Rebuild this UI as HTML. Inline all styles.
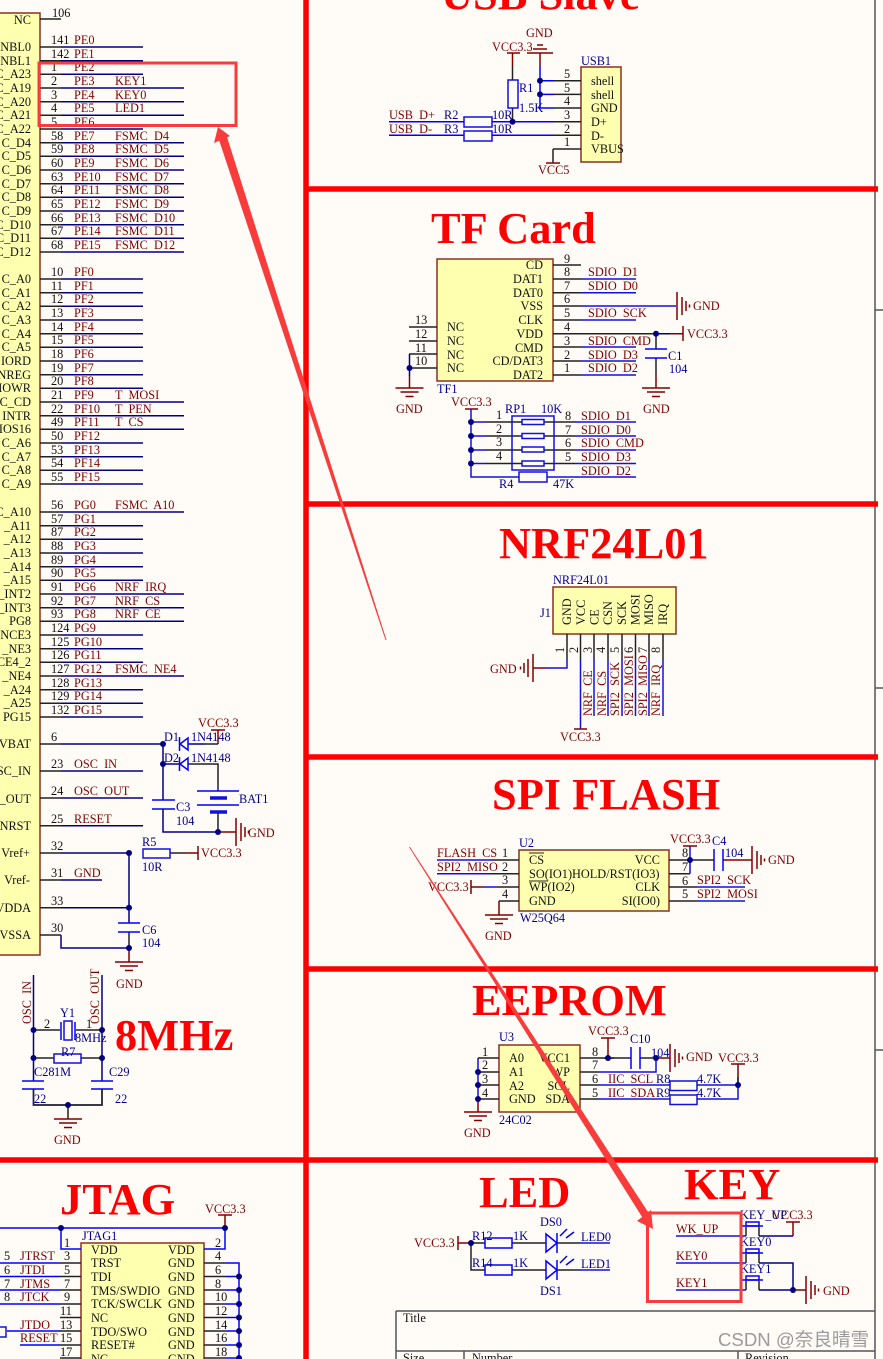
<!DOCTYPE html>
<html><head><meta charset="utf-8"><style>
html,body{margin:0;padding:0;background:#fffcf8}
svg{display:block;filter:blur(.35px)}
text{font-family:"Liberation Serif",serif;font-size:12.300px;fill:#000;white-space:pre}
.r,.r text{fill:#800000}.b,.b text{fill:#000090}.k,.k text{fill:#111}.e{text-anchor:end}
.t text{font-weight:bold;font-size:44.400px;fill:#ff0000}
.w{fill:none;stroke:#000080;stroke-width:1.500}
.u{fill:none;stroke:#1010e0;stroke-width:1.500}
.s{fill:none;stroke:#222;stroke-width:1.500}
.m{fill:none;stroke:#800000;stroke-width:1.500}
.c{fill:#ffffb0;stroke:#8a3020;stroke-width:1.500}
.x{fill:none;stroke:#0000ff;stroke-width:1.500}
</style></head><body>
<svg width="883" height="1359" viewBox="0 0 883 1359" xmlns="http://www.w3.org/2000/svg">
<defs>
<g id="gd" class="m"><path d="M-14 0H14M-9 4H9M-4 8.500H4" stroke-width="1.500"/></g>
<g id="gr" class="m"><path d="M0 -14V14M5 -9V9M9 -5V5M12.500 -1.500V1.500" stroke-width="1.500"/></g>
<circle id="d" r="3" fill="#000080"/>
</defs>
<rect width="883" height="1359" fill="#fffcf8"/>

<!-- frame -->
<path d="M875 0V1359M875 310H883M875 688H883M875 1050H883M396 1311H875M396 1311V1359M396 1351H875M464 1351V1359M738 1351V1359" fill="none" stroke="#555" stroke-width="1.500"/>
<path d="M306 0V1359M306 189H878M306 504H878M306 757H878M306 969H878M0 1160H878" fill="none" stroke="#ff0000" stroke-width="5.500"/>
<text x="403" y="1322" class="k">Title</text><text x="403" y="1362" class="k">Size</text><text x="472" y="1362" class="k">Number</text><text x="745" y="1362" class="k">Revision</text>

<!-- big titles -->
<g class="t">
<text x="441" y="9">USB Slave</text><text x="431" y="243">TF Card</text><text x="499" y="558">NRF24L01</text><text x="492" y="809">SPI FLASH</text><text x="472" y="1015">EEPROM</text><text x="479" y="1207">LED</text><text x="684" y="1199">KEY</text><text x="60" y="1214">JTAG</text><text x="115" y="1050">8MHz</text>
</g>

<!-- MCU -->
<rect x="-10" y="13" width="50" height="942" class="c"/>
<path class="w" d="M61 47H143M61 60.700H143M61 74.300H143M61 88H184M61 101.700H184M61 115.300H184M61 129H143M61 142.700H184M61 156.300H184M61 170H184M61 183.700H184M61 197.300H184M61 211H184M61 224.700H184M61 238.300H184M61 252H184
M61 279H143M61 292.700H143M61 306.300H143M61 320H143M61 333.700H143M61 347.300H143M61 361H143M61 374.700H143M61 388.300H143M61 402H184M61 415.700H184M61 429.300H184M61 443H143M61 456.700H143M61 470.300H143M61 484H143
M61 512H184M61 525.700H143M61 539.300H143M61 553H143M61 566.700H143M61 580.300H143M61 594H184M61 607.700H184M61 621.300H184M61 635H143M61 648.700H143M61 662.300H143M61 676H184M61 689.700H143M61 703.300H143M61 717H143
M61 744H163M61 771H143M61 798H143M61 825.700H143M61 853H129M61 880H102M61 907.700H129M61 935V948H129"/>
<path class="s" d="M40 19H61M40 47H61M40 60.700H61M40 74.300H61M40 88H61M40 101.700H61M40 115.300H61M40 129H61M40 142.700H61M40 156.300H61M40 170H61M40 183.700H61M40 197.300H61M40 211H61M40 224.700H61M40 238.300H61M40 252H61
M40 279H61M40 292.700H61M40 306.300H61M40 320H61M40 333.700H61M40 347.300H61M40 361H61M40 374.700H61M40 388.300H61M40 402H61M40 415.700H61M40 429.300H61M40 443H61M40 456.700H61M40 470.300H61M40 484H61
M40 512H61M40 525.700H61M40 539.300H61M40 553H61M40 566.700H61M40 580.300H61M40 594H61M40 607.700H61M40 621.300H61M40 635H61M40 648.700H61M40 662.300H61M40 676H61M40 689.700H61M40 703.300H61M40 717H61
M40 744H61M40 771H61M40 798H61M40 825.700H61M40 853H61M40 880H61M40 907.700H61M40 935H61"/>
<g class="k e" text-anchor="end">
<text x="31" y="24">NC</text><text x="31" y="51">NBL0</text><text x="31" y="65">NBL1</text><text x="31" y="78">C_A23</text><text x="31" y="92">C_A19</text><text x="31" y="106">C_A20</text><text x="31" y="119">C_A21</text><text x="31" y="133">C_A22</text><text x="31" y="147">C_D4</text><text x="31" y="160">C_D5</text><text x="31" y="174">C_D6</text><text x="31" y="188">C_D7</text><text x="31" y="201">C_D8</text><text x="31" y="215">C_D9</text><text x="31" y="229">C_D10</text><text x="31" y="242">C_D11</text><text x="31" y="256">C_D12</text>
<text x="31" y="283">C_A0</text><text x="31" y="297">C_A1</text><text x="31" y="310">C_A2</text><text x="31" y="324">C_A3</text><text x="31" y="338">C_A4</text><text x="31" y="351">C_A5</text><text x="31" y="365">IORD</text><text x="31" y="379">NREG</text><text x="31" y="392">IOWR</text><text x="31" y="406">C_CD</text><text x="31" y="420">INTR</text><text x="31" y="433">IOS16</text><text x="31" y="447">C_A6</text><text x="31" y="461">C_A7</text><text x="31" y="474">C_A8</text><text x="31" y="488">C_A9</text>
<text x="31" y="516">C_A10</text><text x="31" y="530">_A11</text><text x="31" y="543">_A12</text><text x="31" y="557">_A13</text><text x="31" y="571">_A14</text><text x="31" y="584">_A15</text><text x="31" y="598">_INT2</text><text x="31" y="612">_INT3</text><text x="31" y="625">PG8</text><text x="31" y="639">NCE3</text><text x="31" y="653">_NE3</text><text x="31" y="666">CE4_2</text><text x="31" y="680">_NE4</text><text x="31" y="694">_A24</text><text x="31" y="707">_A25</text><text x="31" y="721">PG15</text>
<text x="31" y="748">VBAT</text><text x="31" y="775">SC_IN</text><text x="31" y="803">_OUT</text><text x="31" y="830">NRST</text><text x="30" y="857">Vref+</text><text x="30" y="884">Vref-</text><text x="31" y="912">/VDDA</text><text x="31" y="939">VSSA</text>
</g>
<g class="k">
<text x="52" y="17">106</text><text x="51" y="44">141</text><text x="51" y="58">142</text><text x="51" y="71">1</text><text x="51" y="85">2</text><text x="51" y="99">3</text><text x="51" y="112">4</text><text x="51" y="126">5</text><text x="51" y="140">58</text><text x="51" y="153">59</text><text x="51" y="167">60</text><text x="51" y="181">63</text><text x="51" y="194">64</text><text x="51" y="208">65</text><text x="51" y="222">66</text><text x="51" y="235">67</text><text x="51" y="249">68</text>
<text x="51" y="276">10</text><text x="51" y="290">11</text><text x="51" y="303">12</text><text x="51" y="317">13</text><text x="51" y="331">14</text><text x="51" y="344">15</text><text x="51" y="358">18</text><text x="51" y="372">19</text><text x="51" y="385">20</text><text x="51" y="399">21</text><text x="51" y="413">22</text><text x="51" y="426">49</text><text x="51" y="440">50</text><text x="51" y="454">53</text><text x="51" y="467">54</text><text x="51" y="481">55</text>
<text x="51" y="509">56</text><text x="51" y="523">57</text><text x="51" y="536">87</text><text x="51" y="550">88</text><text x="51" y="564">89</text><text x="51" y="577">90</text><text x="51" y="591">91</text><text x="51" y="605">92</text><text x="51" y="618">93</text><text x="51" y="632">124</text><text x="51" y="646">125</text><text x="51" y="659">126</text><text x="51" y="673">127</text><text x="51" y="687">128</text><text x="51" y="700">129</text><text x="51" y="714">132</text>
<text x="51" y="741">6</text><text x="51" y="768">23</text><text x="51" y="795">24</text><text x="51" y="823">25</text><text x="51" y="850">32</text><text x="51" y="877">31</text><text x="51" y="905">33</text><text x="51" y="932">30</text>
</g>
<g class="r">
<text x="74" y="44">PE0</text><text x="74" y="58">PE1</text><text x="74" y="71">PE2</text><text x="74" y="85">PE3</text><text x="74" y="99">PE4</text><text x="74" y="112">PE5</text><text x="74" y="126">PE6</text><text x="74" y="140">PE7</text><text x="74" y="153">PE8</text><text x="74" y="167">PE9</text><text x="74" y="181">PE10</text><text x="74" y="194">PE11</text><text x="74" y="208">PE12</text><text x="74" y="222">PE13</text><text x="74" y="235">PE14</text><text x="74" y="249">PE15</text>
<text x="115" y="85">KEY1</text><text x="115" y="99">KEY0</text><text x="115" y="112">LED1</text><text x="115" y="140">FSMC  D4</text><text x="115" y="153">FSMC  D5</text><text x="115" y="167">FSMC  D6</text><text x="115" y="181">FSMC  D7</text><text x="115" y="194">FSMC  D8</text><text x="115" y="208">FSMC  D9</text><text x="115" y="222">FSMC  D10</text><text x="115" y="235">FSMC  D11</text><text x="115" y="249">FSMC  D12</text>
<text x="74" y="276">PF0</text><text x="74" y="290">PF1</text><text x="74" y="303">PF2</text><text x="74" y="317">PF3</text><text x="74" y="331">PF4</text><text x="74" y="344">PF5</text><text x="74" y="358">PF6</text><text x="74" y="372">PF7</text><text x="74" y="385">PF8</text><text x="74" y="399">PF9</text><text x="74" y="413">PF10</text><text x="74" y="426">PF11</text><text x="74" y="440">PF12</text><text x="74" y="454">PF13</text><text x="74" y="467">PF14</text><text x="74" y="481">PF15</text>
<text x="115" y="399">T  MOSI</text><text x="115" y="413">T  PEN</text><text x="115" y="426">T  CS</text>
<text x="74" y="509">PG0</text><text x="74" y="523">PG1</text><text x="74" y="536">PG2</text><text x="74" y="550">PG3</text><text x="74" y="564">PG4</text><text x="74" y="577">PG5</text><text x="74" y="591">PG6</text><text x="74" y="605">PG7</text><text x="74" y="618">PG8</text><text x="74" y="632">PG9</text><text x="74" y="646">PG10</text><text x="74" y="659">PG11</text><text x="74" y="673">PG12</text><text x="74" y="687">PG13</text><text x="74" y="700">PG14</text><text x="74" y="714">PG15</text>
<text x="115" y="509">FSMC  A10</text><text x="115" y="591">NRF  IRQ</text><text x="115" y="605">NRF  CS</text><text x="115" y="618">NRF  CE</text><text x="115" y="673">FSMC  NE4</text>
<text x="74" y="768">OSC  IN</text><text x="74" y="795">OSC  OUT</text><text x="74" y="823">RESET</text><text x="74" y="877">GND</text>
</g>

<!-- RTC / battery -->
<path class="w" d="M163 744V800M163 809V832H218M163 764H180M188 744H205M129 853V923"/>
<path class="s" d="M188 764H218V791M218 812V832M205 744H218M170 853H186M129 932V948"/>
<path class="m" d="M218 744V730M211 730H225M186 853H198M198 846V860M218 832H236M129 948V962"/>
<path class="x" d="M180 744L188 738V750ZM179.500 737V751M180 764L188 758V770ZM179.500 757V771M152 800H175M152 809H175M197 791H239M197 805H239M118 923H140M118 932H140"/>
<path d="M210 798H227M210 812H227" stroke="#1010e0" stroke-width="3.500"/>
<rect x="143" y="849" width="27" height="9" fill="none" stroke="#1010e0" stroke-width="1.500"/>
<use href="#d" x="163" y="744"/><use href="#d" x="163" y="764"/><use href="#d" x="218" y="832"/><use href="#d" x="129" y="853"/><use href="#d" x="129" y="907.700"/><use href="#d" x="129" y="948"/>
<use href="#gr" x="236" y="832"/><use href="#gd" x="129" y="962"/>
<g class="r"><text x="198" y="727">VCC3.3</text><text x="248" y="837">GND</text><text x="201" y="857">VCC3.3</text><text x="116" y="988">GND</text></g>
<g class="b"><text x="164" y="741">D1</text><text x="191" y="741">1N4148</text><text x="164" y="762">D2</text><text x="191" y="762">1N4148</text><text x="176" y="811">C3</text><text x="176" y="825">104</text><text x="239" y="803">BAT1</text><text x="142" y="846">R5</text><text x="142" y="871">10R</text><text x="142" y="934">C6</text><text x="142" y="947">104</text></g>

<!-- crystal -->
<path class="w" d="M33.500 975V1081M102 975V1081M33.500 1089V1105H102V1089"/>
<path class="s" d="M33.500 1030H60M76 1030H102M33.500 1058H54M81 1058H102M33.500 1089V1105H102V1089M68 1105V1119"/>
<path class="x" d="M61 1022V1040M75 1022V1040M22 1081H44M22 1089H44M91 1081H113M91 1089H113"/>
<rect x="64" y="1021" width="8" height="19" fill="none" stroke="#1010e0" stroke-width="1.500"/>
<rect x="54" y="1054" width="27" height="9" fill="none" stroke="#1010e0" stroke-width="1.500"/>
<use href="#d" x="33.500" y="1030"/><use href="#d" x="102" y="1030"/><use href="#d" x="33.500" y="1058"/><use href="#d" x="102" y="1058"/><use href="#d" x="68" y="1105"/>
<use href="#gd" x="68" y="1119"/>
<g class="r"><text transform="translate(31 1024) rotate(-90)">OSC  IN</text><text transform="translate(99 1024) rotate(-90)">OSC  OUT</text><text x="54" y="1144">GND</text></g>
<text x="44" y="1028" class="k">2</text><text x="86" y="1028" class="k">1</text>
<g class="b"><text x="60" y="1017">Y1</text><text x="75" y="1042">8MHz</text><text x="61" y="1056">R7</text><text x="34" y="1076">C28</text><text x="54" y="1076">1M</text><text x="109" y="1076">C29</text><text x="34" y="1103">22</text><text x="115" y="1103">22</text></g>

<!-- JTAG -->
<rect x="81" y="1243" width="123" height="130" class="c"/>
<path class="x" d="M0 1228H225V1249H204M61 1228V1249H81M226 1263H239V1359M226 1276.500H239M226 1290H239M226 1304H239M226 1317.500H239M226 1331H239M226 1345H239M226 1358H239M0 1263H60M0 1276.500H60M0 1290H60M0 1304H60M20 1345H60M7 1331H60"/>
<path class="s" d="M60 1263H81M60 1276.500H81M60 1290H81M60 1304H81M60 1317.500H81M60 1331H81M60 1345H81M60 1358H81M204 1263H226M204 1276.500H226M204 1290H226M204 1304H226M204 1317.500H226M204 1331H226M204 1345H226M204 1358H226"/>
<path class="m" d="M218 1215H232M225 1215V1228"/>
<rect x="-4" y="1327" width="10" height="10" fill="none" stroke="#1010e0" stroke-width="1.500"/>
<use href="#d" x="61" y="1228"/><use href="#d" x="225" y="1228"/><use href="#d" x="239" y="1276.500"/><use href="#d" x="239" y="1290"/><use href="#d" x="239" y="1304"/><use href="#d" x="239" y="1317.500"/><use href="#d" x="239" y="1331"/><use href="#d" x="239" y="1345"/><use href="#d" x="239" y="1358"/>
<text x="205" y="1213" class="r">VCC3.3</text><text x="82" y="1240" class="b">JTAG1</text>
<g class="r"><text x="20" y="1260">JTRST</text><text x="20" y="1274">JTDI</text><text x="20" y="1288">JTMS</text><text x="20" y="1301">JTCK</text><text x="20" y="1329">JTDO</text><text x="20" y="1342">RESET</text></g>
<g class="k">
<text x="4" y="1260">5</text><text x="4" y="1274">6</text><text x="4" y="1288">7</text><text x="4" y="1301">8</text>
<text x="64" y="1247">1</text><text x="64" y="1260">3</text><text x="64" y="1274">5</text><text x="64" y="1288">7</text><text x="64" y="1301">9</text><text x="60" y="1315">11</text><text x="60" y="1329">13</text><text x="60" y="1342">15</text><text x="60" y="1356">17</text>
<text x="215" y="1247">2</text><text x="215" y="1260">4</text><text x="215" y="1274">6</text><text x="215" y="1288">8</text><text x="215" y="1301">10</text><text x="215" y="1315">12</text><text x="215" y="1329">14</text><text x="215" y="1342">16</text><text x="215" y="1356">18</text>
<text x="91" y="1254">VDD</text><text x="91" y="1267">TRST</text><text x="91" y="1281">TDI</text><text x="91" y="1295">TMS/SWDIO</text><text x="91" y="1308">TCK/SWCLK</text><text x="91" y="1322">NC</text><text x="91" y="1336">TDO/SWO</text><text x="91" y="1349">RESET#</text><text x="91" y="1363">NC</text>
<text x="168" y="1254">VDD</text><text x="168" y="1267">GND</text><text x="168" y="1281">GND</text><text x="168" y="1295">GND</text><text x="168" y="1308">GND</text><text x="168" y="1322">GND</text><text x="168" y="1336">GND</text><text x="168" y="1349">GND</text><text x="168" y="1363">GND</text>
</g>

<!-- USB -->
<rect x="581" y="67" width="40" height="95" class="c"/>
<path class="x" d="M389 121.700H553M389 135.300H553M540 66V108H553M540 80.700H553M540 94.400H553"/>
<path class="s" d="M553 80.700H581M553 94.400H581M553 108H581M553 121.700H581M553 135.300H581M553 149H581M553 149V163M512.500 66V80M512.500 108V121.700"/>
<path class="m" d="M507 53H520M512.500 53V66M527 53H553M533 49H547M537 45H543M540 53V66M546 163H560"/>
<g fill="#fffcf8" stroke="#1010e0" stroke-width="1.500"><rect x="508" y="80" width="10" height="28" fill="none"/><rect x="464" y="117" width="28" height="10"/><rect x="464" y="131" width="28" height="10"/></g>
<use href="#d" x="540" y="80.700"/><use href="#d" x="540" y="94.400"/><use href="#d" x="512.500" y="121.700"/>
<g class="r"><text x="526" y="37">GND</text><text x="492" y="51">VCC3.3</text><text x="538" y="174">VCC5</text><text x="389" y="119">USB  D+</text><text x="389" y="133">USB  D-</text></g>
<g class="b"><text x="581" y="65">USB1</text><text x="519" y="92">R1</text><text x="519" y="112">1.5K</text><text x="444" y="119">R2</text><text x="444" y="133">R3</text><text x="492" y="119">10R</text><text x="492" y="133">10R</text></g>
<g class="k"><text x="564" y="78">5</text><text x="564" y="92">5</text><text x="564" y="105">4</text><text x="564" y="119">3</text><text x="564" y="133">2</text><text x="564" y="146">1</text><text x="591" y="85">shell</text><text x="591" y="99">shell</text><text x="591" y="112">GND</text><text x="591" y="126">D+</text><text x="591" y="140">D-</text><text x="591" y="153">VBUS</text></g>

<!-- TF -->
<rect x="437" y="259" width="116" height="122" class="c"/>
<path class="u" d="M581 279H636M581 292.700H636M581 306H676M581 320H636M581 347H636M581 361H636M581 375H636"/>
<path class="s" d="M553 265H581M553 279H581M553 292.700H581M553 306H581M553 320H581M553 333.700H656M553 347H581M553 361H581M553 375H581M409 327H437M409 341H437M409 354H437M409 368H437M656 333.700V349M656 358V376"/>
<path class="w" d="M409.500 354V376M656 333.700H670"/>
<path class="m" d="M670 333.700H683M683 326V341M409.500 376V388M656 376V388"/>
<path class="x" d="M645 349H667M645 358H667"/>
<use href="#gr" x="677" y="306"/><use href="#gd" x="409.500" y="388"/><use href="#gd" x="656" y="388"/><use href="#d" x="409.500" y="368"/><use href="#d" x="656" y="333.700"/>
<g class="k e" text-anchor="end"><text x="543" y="269">CD</text><text x="543" y="283">DAT1</text><text x="543" y="297">DAT0</text><text x="543" y="310">VSS</text><text x="543" y="324">CLK</text><text x="543" y="338">VDD</text><text x="543" y="352">CMD</text><text x="543" y="365">CD/DAT3</text><text x="543" y="379">DAT2</text></g>
<g class="k"><text x="447" y="331">NC</text><text x="447" y="345">NC</text><text x="447" y="359">NC</text><text x="447" y="372">NC</text><text x="415" y="324">13</text><text x="415" y="338">12</text><text x="415" y="352">11</text><text x="415" y="365">10</text>
<text x="564" y="263">9</text><text x="564" y="276">8</text><text x="564" y="290">7</text><text x="564" y="303">6</text><text x="564" y="317">5</text><text x="564" y="331">4</text><text x="564" y="345">3</text><text x="564" y="359">2</text><text x="564" y="372">1</text></g>
<g class="r"><text x="588" y="276">SDIO  D1</text><text x="588" y="290">SDIO  D0</text><text x="588" y="317">SDIO  SCK</text><text x="588" y="345">SDIO  CMD</text><text x="588" y="359">SDIO  D3</text><text x="588" y="372">SDIO  D2</text><text x="693" y="310">GND</text><text x="687" y="338">VCC3.3</text><text x="396" y="413">GND</text><text x="643" y="413">GND</text><text x="451" y="406">VCC3.3</text>
<text x="581" y="420">SDIO  D1</text><text x="581" y="434">SDIO  D0</text><text x="581" y="447">SDIO  CMD</text><text x="581" y="461">SDIO  D3</text><text x="581" y="475">SDIO  D2</text></g>
<g class="b"><text x="668" y="360">C1</text><text x="669" y="373">104</text><text x="437" y="393">TF1</text><text x="505" y="413">RP1</text><text x="541" y="413">10K</text><text x="499" y="488">R4</text><text x="553" y="488">47K</text></g>

<!-- RP1 -->
<path class="u" d="M471 409V477H519M471 422H486M471 436H486M471 450H486M471 463.500H486M547 477H636M575 422H636M575 436H636M575 450H636M575 463.500H636"/>
<path class="s" d="M486 422H512M486 436H512M486 450H512M486 463.500H512M554 422H575M554 436H575M554 450H575M554 463.500H575M512 422H522M512 436H522M512 450H522M512 463.500H522M544 422H554M544 436H554M544 450H554M544 463.500H554"/>
<path class="m" d="M465 409H478"/>
<g fill="none" stroke="#1010e0" stroke-width="1.500"><rect x="512" y="416" width="42" height="54"/><rect x="522" y="419.500" width="22" height="5"/><rect x="522" y="433.500" width="22" height="5"/><rect x="522" y="447" width="22" height="5"/><rect x="522" y="461" width="22" height="5"/><rect x="519" y="472" width="28" height="10"/></g>
<use href="#d" x="471" y="422"/><use href="#d" x="471" y="436"/><use href="#d" x="471" y="450"/><use href="#d" x="471" y="463.500"/>
<g class="k"><text x="496" y="419">1</text><text x="496" y="433">2</text><text x="496" y="446">3</text><text x="496" y="460">4</text><text x="565" y="420">8</text><text x="565" y="434">7</text><text x="565" y="447">6</text><text x="565" y="461">5</text></g>

<!-- NRF -->
<rect x="553" y="587" width="123" height="47" class="c"/>
<path class="u" d="M567 660V668H546M580.500 660V729M594 660V716M608 660V716M622 660V716M635.500 660V716M649 660V716M663 660V716"/>
<path class="s" d="M567 634V660M580.500 634V660M594 634V660M608 634V660M622 634V660M635.500 634V660M649 634V660M663 634V660"/>
<path class="m" d="M533 668H546M574 729H587"/>
<g transform="translate(533 668) scale(-1 1)"><path class="m" d="M0 -14V14M5 -9V9M9 -5V5M12.500 -1.500V1.500" stroke-width="1.500"/></g>
<text x="553" y="584" class="b">NRF24L01</text><text x="540" y="617" class="b">J1</text><text x="490" y="673" class="r">GND</text><text x="560" y="741" class="r">VCC3.3</text>
<g class="k"><text transform="translate(571 625) rotate(-90)">GND</text><text transform="translate(585 625) rotate(-90)">VCC</text><text transform="translate(598.500 625) rotate(-90)">CE</text><text transform="translate(612 625) rotate(-90)">CSN</text><text transform="translate(626 625) rotate(-90)">SCK</text><text transform="translate(639.500 625) rotate(-90)">MOSI</text><text transform="translate(653 625) rotate(-90)">MISO</text><text transform="translate(667 625) rotate(-90)">IRQ</text>
<text transform="translate(564 653) rotate(-90)">1</text><text transform="translate(578 653) rotate(-90)">2</text><text transform="translate(592 653) rotate(-90)">3</text><text transform="translate(605 653) rotate(-90)">4</text><text transform="translate(619 653) rotate(-90)">5</text><text transform="translate(633 653) rotate(-90)">6</text><text transform="translate(647 653) rotate(-90)">7</text><text transform="translate(660 653) rotate(-90)">8</text></g>
<g class="r"><text transform="translate(592 716) rotate(-90)">NRF  CE</text><text transform="translate(606 716) rotate(-90)">NRF  CS</text><text transform="translate(619 716) rotate(-90)">SPI2  SCK</text><text transform="translate(633 716) rotate(-90)">SPI2  MOSI</text><text transform="translate(647 716) rotate(-90)">SPI2  MISO</text><text transform="translate(660 716) rotate(-90)">NRF  IRQ</text></g>

<!-- SPI Flash -->
<rect x="519" y="850" width="150" height="61" class="c"/>
<path class="u" d="M437 860H491M437 873.700H491M484 887H498M690 846V873.700M697 887H745M697 901H745M690 873.700H669"/>
<path class="s" d="M491 860H519M491 873.700H519M498 887H519M499 901H519M669 860H714M669 873.700H690M669 887H697M669 901H697"/>
<path class="m" d="M471 880V894M471 887H484M499 901V915M683 846H697M723 860H752"/>
<path class="x" d="M714 849V871M723 849V871"/>
<use href="#d" x="690" y="860"/><use href="#gd" x="499" y="915"/><use href="#gr" x="752" y="860"/>
<path d="M529 853H544M529 881H548" stroke="#222" stroke-width="1"/>
<g class="k"><text x="529" y="864">CS</text><text x="529" y="878">SO(IO1)HOLD/RST(IO3)</text><text x="529" y="891">WP(IO2)</text><text x="529" y="905">GND</text><text x="660" y="864" text-anchor="end">VCC</text><text x="660" y="891" text-anchor="end">CLK</text><text x="660" y="905" text-anchor="end">SI(IO0)</text>
<text x="502" y="857">1</text><text x="502" y="871">2</text><text x="502" y="884">3</text><text x="502" y="898">4</text><text x="682" y="857">8</text><text x="682" y="871">7</text><text x="682" y="885">6</text><text x="682" y="898">5</text></g>
<g class="r"><text x="437" y="857">FLASH  CS</text><text x="437" y="871">SPI2  MISO</text><text x="428" y="891">VCC3.3</text><text x="485" y="940">GND</text><text x="670" y="843">VCC3.3</text><text x="768" y="864">GND</text><text x="697" y="884">SPI2  SCK</text><text x="697" y="898">SPI2  MOSI</text></g>
<g class="b"><text x="519" y="847">U2</text><text x="520" y="922">W25Q64</text><text x="712" y="845">C4</text><text x="725" y="857">104</text></g>

<!-- EEPROM -->
<rect x="499" y="1045" width="81" height="67" class="c"/>
<path class="u" d="M478 1058V1099M604 1058H614M656 1058V1072H600M600 1085H670M600 1099H670M697 1085H738M697 1099H738V1077"/>
<path class="s" d="M478 1058H499M478 1072H499M478 1085H499M478 1099H499M580 1058H631M580 1072H600M580 1085H600M580 1099H600M640 1058H656M738 1077V1085"/>
<path class="m" d="M478 1099V1112M601 1038H615M608 1038V1058M656 1058H670M731 1064H745M738 1064V1077"/>
<path class="x" d="M631 1047V1069M640 1047V1069"/>
<g fill="#fffcf8" stroke="#1010e0" stroke-width="1.500"><rect x="670" y="1081" width="27" height="9.500" fill="none"/><rect x="670" y="1095" width="27" height="9.500" fill="none"/></g>
<use href="#d" x="478" y="1072"/><use href="#d" x="478" y="1085"/><use href="#d" x="478" y="1099"/><use href="#d" x="608" y="1058"/><use href="#d" x="656" y="1058"/><use href="#d" x="738" y="1085"/><use href="#gd" x="478" y="1112"/><use href="#gr" x="670" y="1058"/>
<g class="k"><text x="509" y="1062">A0</text><text x="509" y="1076">A1</text><text x="509" y="1090">A2</text><text x="509" y="1103">GND</text><text x="570" y="1062" text-anchor="end">VCC1</text><text x="570" y="1076" text-anchor="end">WP</text><text x="570" y="1090" text-anchor="end">SCL</text><text x="570" y="1103" text-anchor="end">SDA</text>
<text x="482" y="1056">1</text><text x="482" y="1069">2</text><text x="482" y="1083">3</text><text x="482" y="1097">4</text><text x="592" y="1056">8</text><text x="592" y="1069">7</text><text x="592" y="1083">6</text><text x="592" y="1097">5</text></g>
<g class="r"><text x="588" y="1035">VCC3.3</text><text x="686" y="1061">GND</text><text x="718" y="1062">VCC3.3</text><text x="464" y="1137">GND</text><text x="608" y="1083">IIC  SCL</text><text x="608" y="1097">IIC  SDA</text></g>
<g class="b"><text x="499" y="1041">U3</text><text x="499" y="1124">24C02</text><text x="630" y="1043">C10</text><text x="651" y="1057">104</text><text x="656" y="1083">R8</text><text x="656" y="1097">R9</text><text x="697" y="1083">4.7K</text><text x="697" y="1097">4.7K</text></g>

<!-- LED -->
<path class="s" d="M471 1243H485M512 1243H546M557 1243H580M471 1243V1270H485M512 1270H546M557 1270H580"/>
<path class="u" d="M580 1243H610M580 1270H610"/>
<path class="m" d="M458 1236V1250M458 1243H471"/>
<g fill="none" stroke="#0000ff" stroke-width="1.500"><rect x="485" y="1238" width="27" height="10"/><rect x="485" y="1265" width="27" height="10"/><path d="M546 1234L557 1243L546 1252ZM557 1233V1253M546 1261L557 1270L546 1279ZM557 1260V1280"/><path d="M560 1236L567 1229M566 1238L574 1232M560 1263L567 1256M566 1265L574 1259"/></g>
<use href="#d" x="471" y="1243"/>
<g class="r"><text x="414" y="1247">VCC3.3</text></g>
<g class="b"><text x="472" y="1240">R12</text><text x="513" y="1240">1K</text><text x="472" y="1267">R14</text><text x="513" y="1267">1K</text><text x="540" y="1226">DS0</text><text x="540" y="1295">DS1</text></g>
<g fill="#0000c0"><text x="581" y="1241" style="fill:#000090">LED0</text><text x="581" y="1268" style="fill:#000090">LED1</text></g>

<!-- KEY -->
<path class="u" d="M676 1236H746M676 1263H746M676 1290H746"/>
<path class="s" d="M746 1227V1236M759 1227V1236M746 1254V1263M759 1254V1263M746 1281V1290M759 1281V1290"/>
<path class="w" d="M759 1236H793M759 1263H793V1290M759 1290H793"/>
<path class="m" d="M786 1222H800M793 1222V1236M793 1290H806"/>
<g fill="none" stroke="#0000ff" stroke-width="1.500"><path d="M742 1226H763M742 1253H763M742 1280H763"/><rect x="746" y="1222" width="13" height="4"/><rect x="746" y="1249" width="13" height="4"/><rect x="746" y="1276" width="13" height="4"/></g>
<use href="#d" x="793" y="1290"/><use href="#gr" x="806" y="1290"/>
<g class="r"><text x="676" y="1233">WK_UP</text><text x="676" y="1260">KEY0</text><text x="676" y="1287">KEY1</text><text x="772" y="1219">VCC3.3</text><text x="823" y="1295">GND</text></g>
<g class="b"><text x="740" y="1219">KEY_UP</text><text x="740" y="1246">KEY0</text><text x="740" y="1273">KEY1</text></g>

<!-- annotations -->
<g fill="#f83c3c">
<polygon points="385.500,640 386.500,640 227,137 219,140"/>
<polygon points="218,127 214,143 230,136"/>
<polygon points="409,847 410,847 650,1215 644,1220"/>
<polygon points="653,1229 637,1221 651,1210"/>
</g>
<g fill="none" stroke="#f83c3c" stroke-width="3"><rect x="39" y="63" width="197" height="62.500"/><rect x="647.500" y="1213" width="93.500" height="88.500"/></g>

<text x="718" y="1346" style='font-family:"Liberation Sans","Noto Sans CJK SC",sans-serif;font-size:18.600px;fill:#9a9a9a'>CSDN @奈良晴雪</text>
</svg>
</body></html>
